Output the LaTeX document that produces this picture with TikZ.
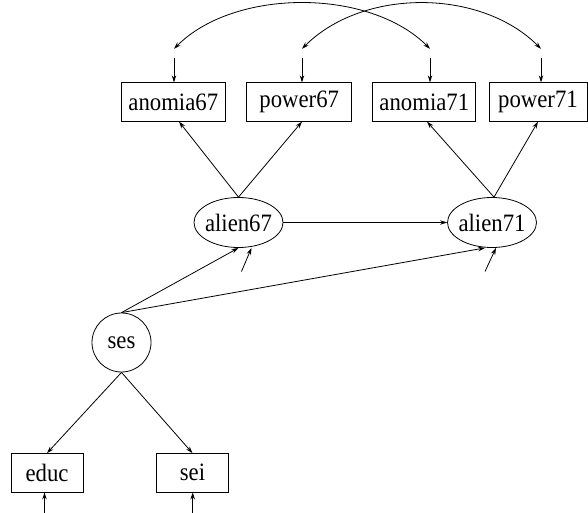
\documentclass[tikz,border=0pt]{standalone}
\usepackage{fontspec}
\setmainfont{Liberation Serif}[FakeStretch=0.91]
\usetikzlibrary{arrows.meta, shapes.geometric, positioning}

\begin{document}
\begin{tikzpicture}[
    x=1pt, y=1pt,
    font=\fontsize{25}{28}\selectfont,
    observed/.style={rectangle, draw, line width=0.8pt, minimum height=38.5pt, inner sep=0pt},
    latent/.style={ellipse, draw, line width=0.8pt, minimum width=89pt, minimum height=50pt, inner sep=0pt},
    err/.style={circle, inner sep=0pt, minimum size=9pt},
    arrow/.style={-{Stealth[length=7pt, width=4.5pt]}, line width=0.8pt},
    cov/.style={{Stealth[length=7pt, width=4.5pt]}-{Stealth[length=7pt, width=4.5pt]}, line width=0.8pt}
  ]
    \useasboundingbox (0,0) rectangle (588,-513);

    % Indicators of alienation
    \node[observed, minimum width=103.5pt] (a67) at (173.3, -102) {anomia67};
    \node[observed, minimum width=105pt] (p67) at (299.2, -102) {power67};
    \node[observed, minimum width=103pt] (a71) at (424.3, -102) {anomia71};
    \node[observed, minimum width=98pt] (p71) at (538, -102) {power71};

    \node[err] (e_a67) at (174, -53.5) {};
    \node[err] (e_p67) at (302, -53.5) {};
    \node[err] (e_a71) at (430, -53.5) {};
    \node[err] (e_p71) at (541, -53.5) {};

    % Latent variables
    \node[latent, label=center:alien67] (al67) at (238.5, -222.5) {};
    \node[latent, label=center:alien71] (al71) at (492, -222.5) {};
    \node[circle, draw, line width=0.8pt, minimum size=59pt, inner sep=0pt] (ses) at (121.5, -342.5) {ses};

    \coordinate (d_al67) at (241.5, -271.5);
    \coordinate (d_al71) at (485, -271.5);

    % Indicators of ses
    \node[observed, minimum width=72pt] (educ) at (47, -472.8) {educ};
    \node[observed, minimum width=72pt] (sei) at (192.5, -472.8) {sei};

    \coordinate (e_educ) at (44.5, -513);
    \coordinate (e_sei) at (192.7, -513);

    % Paths
    \draw[arrow] (al67.north) -- ([xshift=5.7pt]a67.south);
    \draw[arrow] (al67.north) -- ([xshift=2.8pt]p67.south);
    \draw[arrow] ([xshift=2pt]al71.north) -- ([xshift=2.7pt]a71.south);
    \draw[arrow] ([xshift=2pt]al71.north) -- (p71.south);
    \draw[arrow] (al67) -- (al71);

    \draw[arrow] (ses.north) -- (al67.south);
    \draw[arrow] (ses.north) -- ([xshift=-7pt]al71.south);
    \draw[arrow] (ses.south) -- (educ.north);
    \draw[arrow] (ses.south) -- (sei.north);

    % Errors and disturbances
    \draw[arrow] (e_a67) -- (e_a67 |- a67.north);
    \draw[arrow] (e_p67) -- (e_p67 |- p67.north);
    \draw[arrow] (e_a71) -- (e_a71 |- a71.north);
    \draw[arrow] (e_p71) -- (e_p71 |- p71.north);
    \draw[arrow] (d_al67) -- ([xshift=13pt]al67.south);
    \draw[arrow] (d_al71) -- ([xshift=4pt]al71.south);
    \draw[arrow] (e_educ) -- (e_educ |- educ.south);
    \draw[arrow] (e_sei) -- (e_sei |- sei.south);

    % Error covariances
    \draw[cov] (e_a67.north) to[out=45, in=135, looseness=0.86] (e_a71.north);
    \draw[cov] (e_p67.north) to[out=45, in=135, looseness=0.92] (e_p71.north);

  \end{tikzpicture}
\end{document}
